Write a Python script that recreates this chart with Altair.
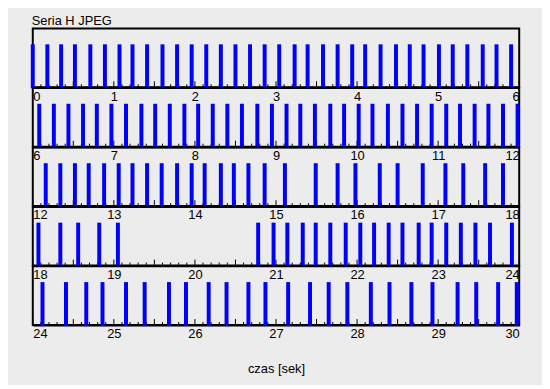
import altair as alt
import pandas as pd

# frame timestamps (seconds), one list per 6-second row
row_0_6 = [0.0, 0.18, 0.35, 0.52, 0.71, 0.89, 1.07, 1.23, 1.41, 1.60, 1.78, 1.96,
           2.14, 2.32, 2.50, 2.68, 2.86, 3.04, 3.23, 3.39, 3.58, 3.76, 3.94, 4.10,
           4.29, 4.48, 4.65, 4.82, 5.01, 5.18, 5.36, 5.55, 5.72, 5.90]
row_6_12 = [6.08, 6.26, 6.44, 6.62, 6.79, 6.97, 7.15, 7.34, 7.51, 7.69, 7.87, 8.04,
            8.22, 8.40, 8.58, 8.77, 8.95, 9.13, 9.30, 9.48, 9.67, 9.84, 10.02, 10.19,
            10.38, 10.56, 10.74, 10.92, 11.10, 11.27, 11.45, 11.62, 11.80, 11.98]
row_12_18 = [12.16, 12.34, 12.52, 12.69, 12.88, 13.06, 13.23, 13.41, 13.59, 13.78,
             13.96, 14.12, 14.32, 14.48, 14.66, 14.86, 15.11, 15.49, 15.76, 15.98,
             16.28, 16.50, 16.81, 17.09, 17.31, 17.58, 17.80]
row_18_24 = [18.07, 18.34, 18.56, 18.82, 19.05, 20.78, 20.97, 21.14, 21.33, 21.49,
             21.67, 21.86, 22.04, 22.21, 22.39, 22.56, 22.76, 22.92, 23.10, 23.28,
             23.46, 23.64, 23.91]
row_24_30 = [24.12, 24.41, 24.66, 24.86, 25.15, 25.38, 25.68, 25.89, 26.17, 26.39,
             26.66, 26.87, 27.15, 27.42, 27.65, 27.88, 28.17, 28.40, 28.67, 28.93,
             29.24, 29.47, 29.74, 29.97]

rows = [row_0_6, row_6_12, row_12_18, row_18_24, row_24_30]
row_starts = [0, 6, 12, 18, 24]
ROW_LEN = 6

PANEL_W = 491
PANEL_H = 59.2
BAR_FRAC = 43.3 / 59.2      # bar height as fraction of panel height
YMAX = 1 / BAR_FRAC
MAJOR_T = 6 / PANEL_H * YMAX
MINOR_T = 3 / PANEL_H * YMAX

FONT = "Liberation Sans"

charts = []
for i, (start, times) in enumerate(zip(row_starts, rows)):
    lo, hi = start, start + ROW_LEN
    bars_df = pd.DataFrame({"t": times, "y0": -0.025, "y1": 1.0})
    tick_t = [round(lo + k / 10, 1) for k in range(ROW_LEN * 10 + 1)]
    tick_top = [MAJOR_T if (k % 5 == 0) else MINOR_T for k in range(ROW_LEN * 10 + 1)]
    ticks_df = pd.DataFrame({"t": tick_t, "y0": 0.0, "y1": tick_top})

    xscale = alt.Scale(domain=[lo, hi], nice=False, zero=False)
    yscale = alt.Scale(domain=[0, YMAX], nice=False, zero=False)
    last = i == len(rows) - 1
    axis_kw = dict(
        values=list(range(lo, hi + 1)), format="d", ticks=False,
        domainColor="black", domainWidth=2, labelFlush=True,
        labelFont=FONT, labelFontSize=13, labelColor="#000000", labelPadding=3,
        grid=False,
    )
    if last:
        axis_kw.update(title="czas [sek]", titleFont=FONT, titleFontSize=13,
                       titleFontWeight="normal", titleColor="#000000", titlePadding=22)
    else:
        axis_kw.update(title="")
    xaxis = alt.Axis(**axis_kw)

    tick_layer = alt.Chart(ticks_df).mark_rule(color="black", strokeWidth=1).encode(
        x=alt.X("t:Q", scale=xscale, axis=xaxis),
        y=alt.Y("y0:Q", scale=yscale, axis=None),
        y2="y1:Q",
    )
    bar_layer = alt.Chart(bars_df).mark_rule(color="#0000ff", strokeWidth=4).encode(
        x=alt.X("t:Q", scale=xscale, axis=xaxis),
        y=alt.Y("y0:Q", scale=yscale, axis=None),
        y2="y1:Q",
    )
    charts.append(alt.layer(tick_layer, bar_layer).properties(width=PANEL_W, height=PANEL_H))

chart = alt.vconcat(*charts, spacing=0, bounds="flush").properties(
    title=alt.TitleParams("Seria H JPEG", anchor="start", font=FONT, fontSize=13,
                          fontWeight="normal", color="#000000", offset=0, dx=2),
    padding={"left": 22, "top": 5, "right": 21, "bottom": 6},
    background="#ececec",
).configure_view(stroke="black", strokeWidth=2, fill="transparent")

chart.save("out.html", embed_options={"renderer": "svg", "actions": False})
